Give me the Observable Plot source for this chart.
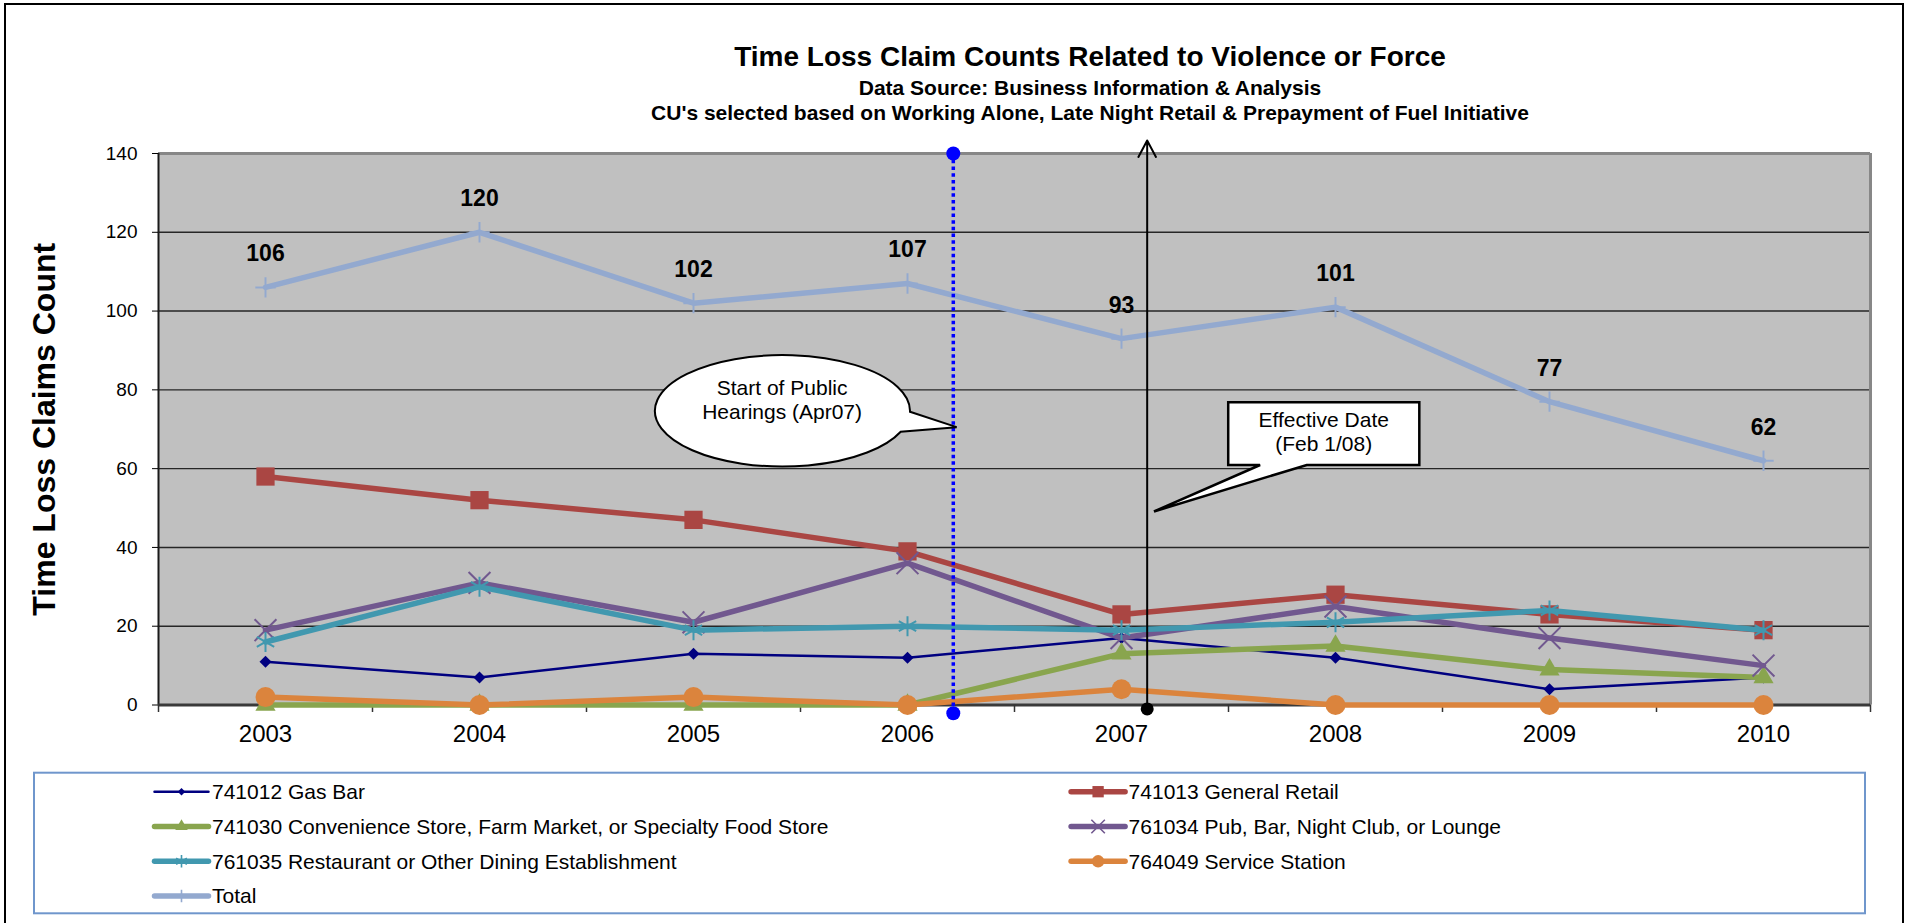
<!DOCTYPE html>
<html>
<head>
<meta charset="utf-8">
<script src="https://cdn.jsdelivr.net/npm/d3@7"></script>
<script src="https://cdn.jsdelivr.net/npm/@observablehq/plot@0.6"></script>
<style>
html, body { margin: 0; padding: 0; background: #fff; overflow: hidden; }
#page { position: relative; width: 1907px; height: 923px; font-family: "Liberation Sans", Arial, sans-serif; color: #000; }
#frame { position: absolute; left: 4px; top: 3px; width: 1900px; height: 980px; border: 2px solid #000; box-sizing: border-box; pointer-events: none; }
#header { padding-top: 41px; padding-left: 273px; width: 1634px; height: 84px; text-align: center; font-weight: bold; }
#header .t1 { font-size: 28px; line-height: 32px; height: 32px; margin-bottom: 2px; white-space: nowrap; }
#header .t2 { font-size: 21px; line-height: 25px; height: 25px; white-space: nowrap; }
#chart svg, #legend svg { display: block; }
</style>
</head>
<body>
<div id="page">
  <div id="header">
    <div class="t1">Time Loss Claim Counts Related to Violence or Force</div>
    <div class="t2">Data Source: Business Information &amp; Analysis</div>
    <div class="t2">CU's selected based on Working Alone, Late Night Retail &amp; Prepayment of Fuel Initiative</div>
  </div>
  <div id="chart"></div>
  <div id="legend"></div>
  <div id="frame"></div>
</div>
<script>
// ---------------- data ----------------
const years = [2003, 2004, 2005, 2006, 2007, 2008, 2009, 2010];
const yTicks = [0, 20, 40, 60, 80, 100, 120, 140];
const seriesNames = [
  "741012 Gas Bar",
  "741013 General Retail",
  "741030 Convenience Store, Farm Market, or Specialty Food Store",
  "761034 Pub, Bar, Night Club, or Lounge",
  "761035 Restaurant or Other Dining Establishment",
  "764049 Service Station",
  "Total"
];
const gasBar         = [11, 7, 13, 12, 17, 12, 4, 7];
const generalRetail  = [58, 52, 47, 39, 23, 28, 23, 19];
const convenience    = [0, 0, 0, 0, 13, 15, 9, 7];
const pub            = [19, 31, 21, 36, 17, 25, 17, 10];
const restaurant     = [16, 30, 19, 20, 19, 21, 24, 19];
const serviceStation = [2, 0, 2, 0, 4, 0, 0, 0];
const total          = [106, 120, 102, 107, 93, 101, 77, 62];
const seriesValues = [gasBar, generalRetail, convenience, pub, restaurant, serviceStation, total];

const yTitle = "Time Loss Claims Count";
// annotation anchors in data units (x = fractional year, y = count)
const hearingDate = 2006.214;
const effectiveDate = 2007.12;
const hearingText = "Start of Public\nHearings (Apr07)";
const effectiveText = "Effective Date\n(Feb 1/08)";

// ---------------- styles ----------------
const seriesStyles = [
  {color: "#000080", width: 2.5, symbol: "diamond2", r: 5.4, filled: true},
  {color: "#AA4643", width: 5.5, symbol: "square", r: 10.3, filled: true},
  {color: "#89A54E", width: 5.5, symbol: "triangle", r: 7.5, filled: true},
  {color: "#71588F", width: 5.5, symbol: "times", r: 10, filled: false},
  {color: "#4198AF", width: 5.5, symbol: "asterisk", r: 9.5, filled: false},
  {color: "#DB843D", width: 5.5, symbol: "circle", r: 10, filled: true},
  {color: "#93A9CF", width: 5.5, symbol: "plus", r: 6.6, filled: false}
];
const hearingBubble = {x1: 2004.822, x2: 2006.014, y1: 60.4, y2: 88.7, tipX: 2006.232, tipY: 70.4, baseAngles: [1, 22], textX: 2005.414, textY: 77.6};
const effectiveBox = {x1: 2007.501, x2: 2008.394, y1: 60.8, y2: 76.7, tipX: 2007.154, tipY: 49.0, baseX: [2007.65, 2007.868], textX: 2007.945, textY: 69.5};

const font = "'Liberation Sans', Arial, sans-serif";

// ---------------- build tables ----------------
const rowsBySeries = seriesNames.map((name, s) =>
  years.map((year, i) => ({series: name, year, value: seriesValues[s][i]}))
);
const bounds = years.map(y => y - 0.5).concat([years[years.length - 1] + 0.5]);
const xDomain = [bounds[0], bounds[bounds.length - 1]];

function seriesMarks(s) {
  const st = seriesStyles[s];
  const rows = rowsBySeries[s];
  const dotOpts = st.filled
    ? {fill: st.color, stroke: "none"}
    : {fill: "none", stroke: st.color, strokeWidth: 2};
  return [
    Plot.line(rows, {x: "year", y: "value", stroke: st.color, strokeWidth: st.width, strokeLinejoin: "round", strokeLinecap: "round"}),
    Plot.dot(rows, {x: "year", y: "value", symbol: st.symbol, r: st.r, ...dotOpts})
  ];
}

function hearingShape(index, scales) {
  const {x, y} = scales;
  const b = hearingBubble;
  const x1 = x(b.x1), x2 = x(b.x2), yt = y(b.y2), yb = y(b.y1);
  const cx = (x1 + x2) / 2, cy = (yt + yb) / 2, rx = (x2 - x1) / 2, ry = (yb - yt) / 2;
  const pt = a => [cx + rx * Math.cos(a * Math.PI / 180), cy + ry * Math.sin(a * Math.PI / 180)];
  const [ax, ay] = pt(b.baseAngles[0]);
  const [bx, by] = pt(b.baseAngles[1]);
  const tx = x(b.tipX), ty = y(b.tipY);
  const g = d3.create("svg:g");
  g.append("path")
    .attr("d", `M${ax},${ay}L${tx},${ty}L${bx},${by}A${rx},${ry} 0 1 1 ${ax},${ay}Z`)
    .attr("fill", "white").attr("stroke", "black").attr("stroke-width", 2).attr("stroke-linejoin", "miter");
  return g.node();
}

function effectiveShape(index, scales) {
  const {x, y} = scales;
  const b = effectiveBox;
  const x1 = x(b.x1), x2 = x(b.x2), yt = y(b.y2), yb = y(b.y1);
  const b1 = x(b.baseX[0]), b2 = x(b.baseX[1]);
  const tx = x(b.tipX), ty = y(b.tipY);
  const g = d3.create("svg:g");
  g.append("path")
    .attr("d", `M${x1},${yt}H${x2}V${yb}H${b2}L${tx},${ty}L${b1},${yb}H${x1}Z`)
    .attr("fill", "white").attr("stroke", "black").attr("stroke-width", 2.5).attr("stroke-linejoin", "miter");
  return g.node();
}

const chart = Plot.plot({
  width: 1907,
  height: 635,
  marginLeft: 158,
  marginRight: 37,
  marginTop: 28,
  marginBottom: 55.5,
  x: {domain: xDomain},
  y: {domain: [yTicks[0], yTicks[yTicks.length - 1]]},
  style: {fontFamily: font, color: "black", background: "transparent", overflow: "visible"},
  marks: [
    Plot.frame({fill: "#C0C0C0", stroke: "none"}),
    Plot.ruleY(yTicks.slice(1, -1), {stroke: "#262626", strokeWidth: 1.4}),
    Plot.ruleY([yTicks[yTicks.length - 1]], {stroke: "#878787", strokeWidth: 3}),
    Plot.ruleX([xDomain[1]], {stroke: "#878787", strokeWidth: 3}),
    Plot.ruleX([xDomain[0]], {stroke: "#1a1a1a", strokeWidth: 2}),
    Plot.ruleY([0], {stroke: "#3a3a3a", strokeWidth: 3}),
    Plot.ruleX(bounds, {y1: 0, y2: -1.9, stroke: "#333", strokeWidth: 1.5}),
    Plot.axisY({ticks: yTicks, tickSize: 6, tickPadding: 15, fontSize: 19, label: null, tickFormat: d => String(d)}),
    Plot.axisX({ticks: years, tickSize: 0, tickPadding: 20, fontSize: 24, label: null, tickFormat: d => String(d)}),
    Plot.text([yTitle], {text: d => d, frameAnchor: "left", dx: -114, rotate: -90, fontSize: 32, fontWeight: "bold", textAnchor: "middle", lineAnchor: "middle", fill: "black"}),
    ...seriesNames.flatMap((_, s) => seriesMarks(s)),
    Plot.text(rowsBySeries[6], {x: "year", y: "value", text: d => String(d.value), dy: -33.5, fontSize: 23, fontWeight: "bold", fill: "black", lineAnchor: "middle"}),
    // hearing marker (blue dotted line)
    Plot.ruleX([hearingDate], {y1: -2.1, y2: 140, stroke: "#0000FF", strokeWidth: 3.5, strokeDasharray: "3.5,3.2"}),
    Plot.dot([{x: hearingDate, y: 140}, {x: hearingDate, y: -2.1}], {x: "x", y: "y", r: 7, fill: "#0000FF", stroke: "none"}),
    // effective date arrow
    Plot.arrow([{x: effectiveDate, y1: -1, y2: 143.3}], {x1: "x", x2: "x", y1: "y1", y2: "y2", stroke: "black", strokeWidth: 2, headLength: 14, headAngle: 56}),
    Plot.dot([{x: effectiveDate, y: -1}], {x: "x", y: "y", r: 6.5, fill: "black", stroke: "none"}),
    // callouts
    hearingShape,
    Plot.text([hearingText], {x: hearingBubble.textX, y: hearingBubble.textY, text: d => d, fontSize: 21, lineHeight: 1.13, textAnchor: "middle", lineAnchor: "middle", fill: "black"}),
    effectiveShape,
    Plot.text([effectiveText], {x: effectiveBox.textX, y: effectiveBox.textY, text: d => d, fontSize: 21, lineHeight: 1.13, textAnchor: "middle", lineAnchor: "middle", fill: "black"})
  ]
});
document.getElementById("chart").appendChild(chart);

// ---------------- legend ----------------
const legendLayout = {boxX1: 34, boxX2: 1865, boxY1: 12.7, boxY2: 153.3, colX: [154, 1070.6], swatchW: 54, textGap: 3.5, rowY0: 31.2, rowStep: 34.8, markerScale: 0.62};
const legendItems = seriesNames.map((name, i) => ({name, i, col: i % 2, row: Math.floor(i / 2)}));

const legendMarks = [
  Plot.rect([0], {x1: legendLayout.boxX1, x2: legendLayout.boxX2, y1: legendLayout.boxY1, y2: legendLayout.boxY2, fill: "white", stroke: "#6F96CC", strokeWidth: 2})
];
for (const item of legendItems) {
  const st = seriesStyles[item.i];
  const x0 = legendLayout.colX[item.col];
  const yy = legendLayout.rowY0 + item.row * legendLayout.rowStep;
  const dotOpts = st.filled
    ? {fill: st.color, stroke: "none"}
    : {fill: "none", stroke: st.color, strokeWidth: 1.6};
  legendMarks.push(
    Plot.link([item], {x1: x0, x2: x0 + legendLayout.swatchW, y1: yy, y2: yy, stroke: st.color, strokeWidth: st.width, strokeLinecap: "round"}),
    Plot.dot([item], {x: x0 + legendLayout.swatchW / 2, y: yy, symbol: st.symbol, r: st.r * legendLayout.markerScale, ...dotOpts}),
    Plot.text([item], {x: x0 + legendLayout.swatchW + legendLayout.textGap, y: yy + 0.6, text: "name", textAnchor: "start", lineAnchor: "middle", fontSize: 21, fill: "black"})
  );
}
const legend = Plot.plot({
  width: 1907,
  height: 160,
  margin: 0,
  x: {type: "identity"},
  y: {type: "identity"},
  style: {fontFamily: font, color: "black", background: "transparent"},
  marks: legendMarks
});
document.getElementById("legend").appendChild(legend);
</script>
</body>
</html>
